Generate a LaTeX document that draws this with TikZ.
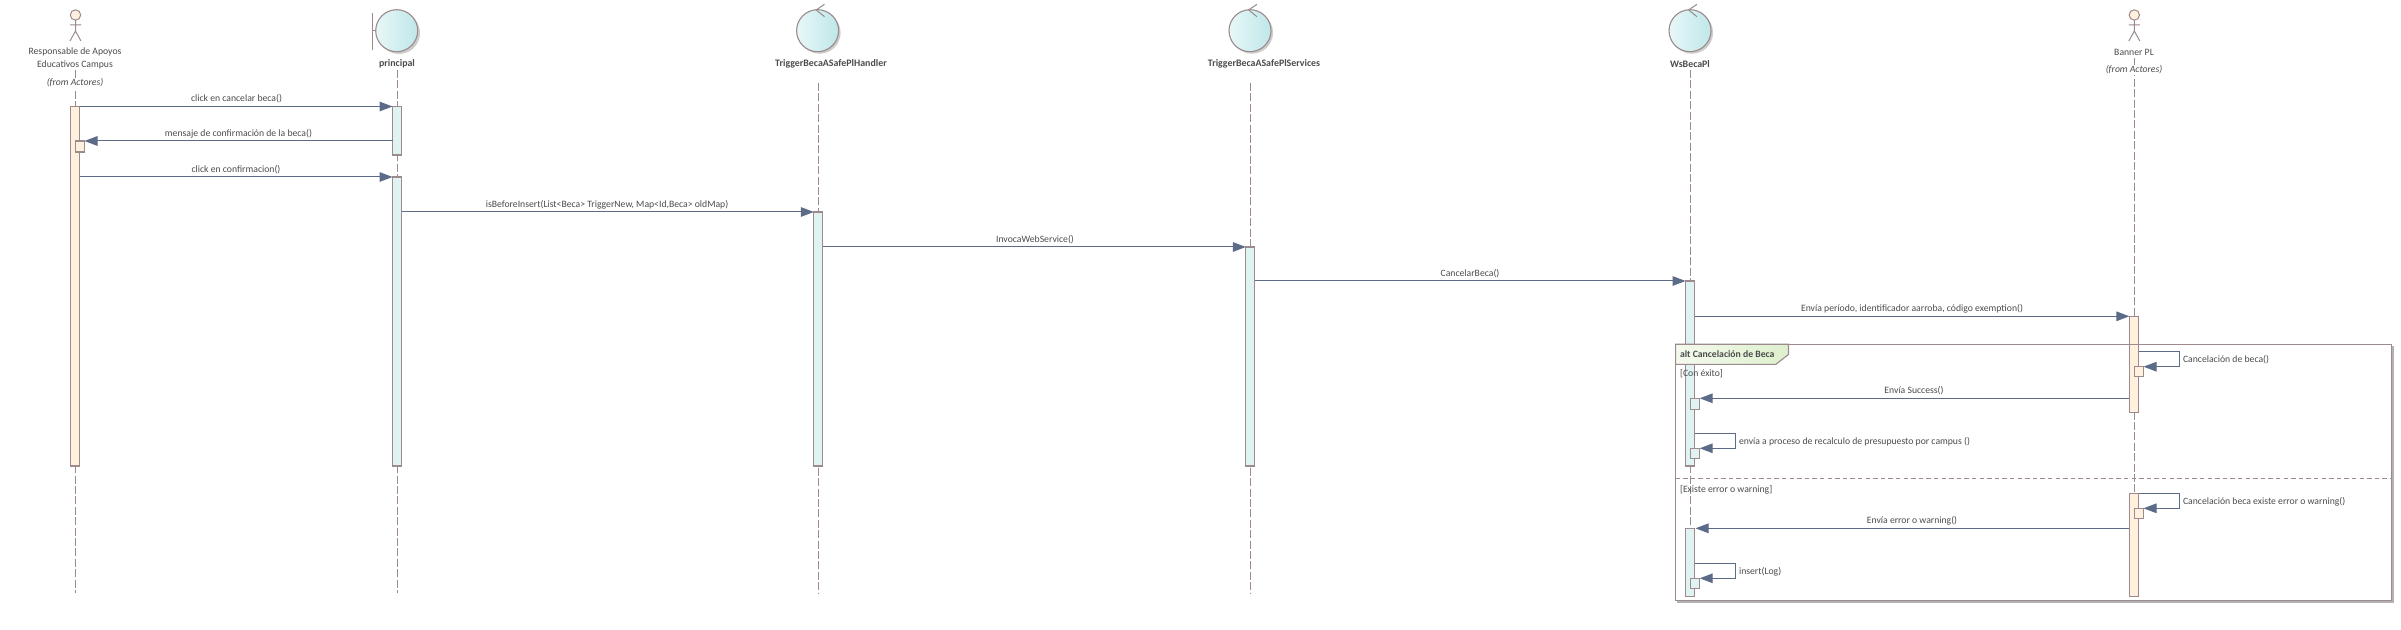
\documentclass[tikz,border=0pt]{standalone}
\usepackage{fontspec}
\setmainfont{Carlito}
\usetikzlibrary{arrows.meta,calc}
\definecolor{edgec}{HTML}{9C8A8C}
\definecolor{msgc}{HTML}{5C6B88}
\definecolor{txtc}{HTML}{4C4C4C}
\definecolor{cyanb}{HTML}{DFF3F3}
\definecolor{orb}{HTML}{FFF1DE}
\definecolor{ballL}{HTML}{E8F7F8}
\definecolor{ballR}{HTML}{BFE7E9}
\definecolor{tabL}{HTML}{F4FAEE}
\definecolor{tabR}{HTML}{DDF0CC}
\tikzset{
  x=0.5pt,y=-0.5pt,
  life/.style={draw=edgec,line width=0.5pt,dash pattern=on 4pt off 1.2pt},
  barc/.style={draw=edgec,line width=0.55pt,fill=cyanb,rectangle,inner sep=0pt,outer sep=0pt,anchor=north west},
  baro/.style={barc,fill=orb},
  msg/.style={draw=msgc,line width=0.5pt,-{Triangle[length=6.5pt,width=4.8pt,fill=msgc]}},
  lbl/.style={font=\fontsize{4.85}{6}\selectfont,text=txtc,inner sep=0pt,outer sep=0pt},
  lblb/.style={lbl,font=\fontsize{4.95}{6}\selectfont\bfseries},
  lblr/.style={lbl,anchor=west},
  figc/.style={draw=edgec,line width=0.5pt},
  ball/.style={circle,draw=edgec,line width=0.55pt,inner sep=0pt,outer sep=0pt,minimum size=21pt,left color=ballL,right color=ballR},
  shadowb/.style={circle,fill=black!20,inner sep=0pt,minimum size=21pt},
  headc/.style={circle,draw=edgec,line width=0.5pt,fill=orb,inner sep=0pt,outer sep=0pt,minimum size=5.2pt}
}
% name, x-left, y-top, y-bottom, width, style
\newcommand{\actb}[6]{\node[#6,minimum width={#5*0.5pt},minimum height={(#4-#3)*0.5pt}] (#1) at (#2,#3) {};}
\begin{document}
\begin{tikzpicture}
\useasboundingbox (0,0) rectangle (2401,630);
\fill[white] (0,0) rectangle (2401,630);

% lifeline ends
\coordinate (s1) at (75.5,70);   \coordinate (e1) at (75.5,593);
\coordinate (s2) at (397,70);    \coordinate (e2) at (397,593);
\coordinate (s3) at (818.3,83);  \coordinate (e3) at (818.3,593);
\coordinate (s4) at (1250.4,83); \coordinate (e4) at (1250.4,593);
\coordinate (s5) at (1690.3,70); \coordinate (e5) at (1690.3,593);
\coordinate (s6) at (2134.3,58); \coordinate (e6) at (2134.3,593);
\foreach \i in {1,...,6} \draw[life] (s\i) -- (e\i);

% actor 1
\node[headc] (h1) at (75.5,15) {};
\coordinate (w1) at (75.5,31);
\coordinate (al1) at (70,25); \coordinate (ar1) at (81,25);
\coordinate (ll1) at (70,41); \coordinate (lr1) at (81,41);
\draw[figc] (h1.south) -- (w1) (al1) -- (ar1) (ll1) -- (w1) -- (lr1);
% actor 2
\node[headc] (h6) at (2134.3,15) {};
\coordinate (w6) at (2134.3,31);
\coordinate (al6) at (2128.8,25); \coordinate (ar6) at (2139.8,25);
\coordinate (ll6) at (2128.8,41); \coordinate (lr6) at (2139.8,41);
\draw[figc] (h6.south) -- (w6) (al6) -- (ar6) (ll6) -- (w6) -- (lr6);

% boundary
\node[shadowb] at (399,33) {};
\node[ball] (c2) at (396.7,30.7) {};
\coordinate (b2a) at (372.3,13); \coordinate (b2b) at (372.3,50); \coordinate (b2c) at (372.3,30.7);
\draw[figc] (b2a) -- (b2b) (b2c) -- (c2.west);
% controls
\foreach \n/\cx in {c3/817.6,c4/1250,c5/1690}{
  \node[shadowb] at ($(\cx,30.7)+(2,2)$) {};
  \node[ball] (\n) at (\cx,30.7) {};
  \draw[figc] ($(\n.center)+(6.9,-26.4)$) -- ($(\n.center)+(-1.4,-20.7)$) -- ($(\n.center)+(6.9,-14)$);
}

% activations
\actb{a1}{70.5}{106.5}{466}{9}{baro}
\actb{a1s}{75.5}{141}{152}{9}{baro}
\actb{p1}{392.5}{106.5}{155}{9}{barc}
\actb{p2}{392.5}{177}{466}{9}{barc}
\actb{t1}{813.8}{212}{466}{8.7}{barc}
\actb{t2}{1245.8}{247}{466}{8.7}{barc}
\actb{w1b}{1685.5}{281}{466}{9}{barc}
\actb{wa}{1690.3}{398.3}{409.3}{9.4}{barc}
\actb{wb}{1690.3}{448.3}{458.7}{9.4}{barc}
\actb{w2b}{1685.5}{528.3}{596.3}{9}{barc}
\actb{wc}{1690.3}{578.3}{588.3}{9.4}{barc}
\actb{b1}{2129.3}{316.3}{412.3}{9.2}{baro}
\actb{ba}{2134.5}{366.7}{376.7}{9}{baro}
\actb{b2}{2129.3}{493.3}{596.3}{9.2}{baro}
\actb{bb}{2134.5}{508.3}{518.3}{9}{baro}

% messages
\draw[msg] (a1.north east) -- (p1.north west);
\draw[msg] (p1.west |- a1s.north) -- (a1s.north east);
\draw[msg] (a1.east |- p2.north) -- (p2.north west);
\draw[msg] (p2.east |- t1.north) -- (t1.north west);
\draw[msg] (t1.east |- t2.north) -- (t2.north west);
\draw[msg] (t2.east |- w1b.north) -- (w1b.north west);
\draw[msg] (w1b.east |- b1.north) -- (b1.north west);
\draw[msg] (b1.west |- wa.north) -- (wa.north east);
\draw[msg] (b2.west |- w2b.north) -- ($(w2b.north east)+(1,0)$);
% self messages
\coordinate (t1a) at (2138.5,351.3); \coordinate (t1b) at (2179.4,351.3);
\draw[msg] (t1a) -- (t1b) -- (t1b |- ba.north) -- (ba.north east);
\coordinate (t2a) at (1694.5,433.3); \coordinate (t2b) at (1735.6,433.3);
\draw[msg] (t2a) -- (t2b) -- (t2b |- wb.north) -- (wb.north east);
\coordinate (t3b) at (2179.4,493.3);
\draw[msg] (b2.north east) -- (t3b) -- (t3b |- bb.north) -- (bb.north east);
\coordinate (t4a) at (1694.5,563.3); \coordinate (t4b) at (1735.6,563.3);
\draw[msg] (t4a) -- (t4b) -- (t4b |- wc.north) -- (wc.north east);

% alt frame
\coordinate (fa) at (1675.6,344.3); \coordinate (fb) at (2391.6,600.7);
\draw[draw=black!30,line width=0.7pt] ($(fa |- fb)+(1.5,1.2)$) -- ($(fb)+(1.2,1.2)$) -- ($(fb |- fa)+(1.2,1.5)$);
\draw[draw=edgec,line width=0.55pt] (fa) rectangle (fb);
\coordinate (sepa) at (1675.6,478.3); \coordinate (sepb) at (2391.6,478.3);
\draw[draw=edgec,line width=0.55pt,dash pattern=on 2.2pt off 1.6pt] (sepa) -- (sepb);
\coordinate (tb1) at (1788.5,344.3); \coordinate (tb2) at (1788.5,354.5);
\coordinate (tb3) at (1775.8,364.3); \coordinate (tb4) at (1675.6,364.3);
\draw[draw=edgec,line width=0.55pt,left color=tabL,right color=tabR] (fa) -- (tb1) -- (tb2) -- (tb3) -- (tb4) -- cycle;
\node[lblr,font=\fontsize{4.85}{6}\selectfont\bfseries] (altl) at (1680,354.3) {alt Cancelación de Beca};
\node[lblr] (g1) at (1680,374) {[Con éxito]};
\node[lblr] (g2) at (1680,490) {[Existe error o warning]};

% header labels
\node[lbl] (n1a) at (75,52) {Responsable de Apoyos};
\node[lbl] (n1b) at (75,65) {Educativos Campus};
\node[lbl,font=\fontsize{4.85}{6}\selectfont\itshape,fill=white,inner sep=0.5pt] (n1c) at (75,83) {(from Actores)};
\node[lblb] (n2) at (397,64) {principal};
\node[lblb] (n3) at (831,64) {TriggerBecaASafePlHandler};
\node[lblb] (n4) at (1264,64) {TriggerBecaASafePlServices};
\node[lblb] (n5) at (1690,64) {WsBecaPl};
\node[lbl] (n6) at (2134,52) {Banner PL};
\node[lbl,font=\fontsize{4.85}{6}\selectfont\itshape,fill=white,inner sep=0.5pt] (n6c) at (2134,70) {(from Actores)};

% message labels
\node[lbl] (m1) at (236.5,98.7) {click en cancelar beca()};
\node[lbl] (m2) at (238.5,133.7) {mensaje de confirmación de la beca()};
\node[lbl] (m3) at (236,169.7) {click en confirmacion()};
\node[lbl] (m4) at (607,204.5) {isBeforeInsert(List<Beca> TriggerNew, Map<Id,Beca> oldMap)};
\node[lbl] (m5) at (1035,240) {InvocaWebService()};
\node[lbl] (m6) at (1470,274) {CancelarBeca()};
\node[lbl] (m7) at (1912,309) {Envía período, identificador aarroba, código exemption()};
\node[lblr] (m8) at (2183,360) {Cancelación de beca()};
\node[lbl] (m9) at (1914,391) {Envía Success()};
\node[lblr] (m10) at (1739,442) {envía a proceso de recalculo de presupuesto por campus ()};
\node[lblr] (m11) at (2183,502) {Cancelación beca existe error o warning()};
\node[lbl] (m12) at (1912,521) {Envía error o warning()};
\node[lblr] (m13) at (1739,572) {insert(Log)};
\end{tikzpicture}
\end{document}
